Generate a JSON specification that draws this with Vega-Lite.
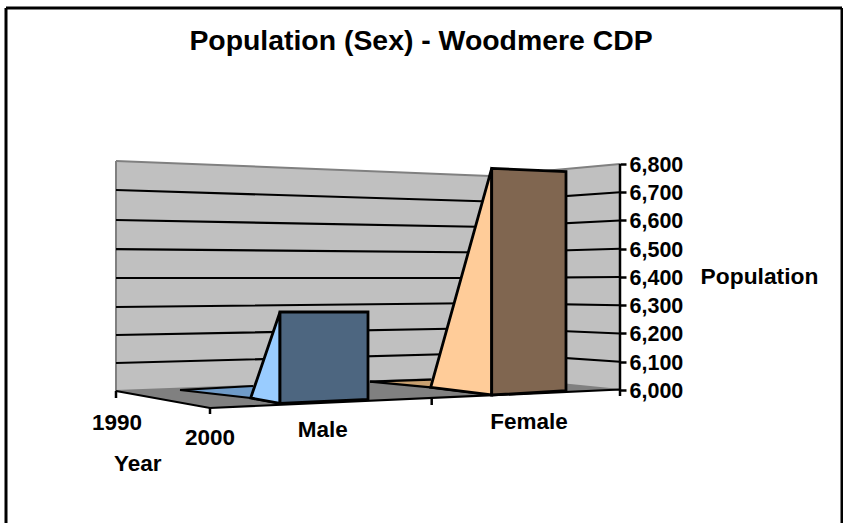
{
"$schema":"https://vega.github.io/schema/vega-lite/v6.json",
"width":836,"height":515,
"autosize":{"type":"none"},
"padding":{"left":6,"top":8,"right":1,"bottom":0},
"background":"white",
"view":{"stroke":null},
"title":{"text":"Population (Sex) - Woodmere CDP","font":"Liberation Sans","fontWeight":"bold","fontSize":28.4,"color":"black","anchor":"middle","offset":-50,"dx":-3},
"config":{"font":"Liberation Sans"},
"datasets":{
"shapes":[
{"part":"walls","p":1.10,"v":6810.6,"v2":5996.5},
{"part":"walls","p":4.84,"v":6757.5,"v2":6046},
{"part":"walls","p":6.14,"v":6800,"v2":6000},
{"part":"floor","p":1.10,"v":5996.5,"v2":5996.5},
{"part":"floor","p":2.04,"v":6008.8,"v2":5936.3},
{"part":"floor","p":4.84,"v":6046,"v2":5981},
{"part":"floor","p":6.14,"v":6000,"v2":6001.8},
{"part":"maleBase","p":1.74,"v":6000,"v2":6000},
{"part":"maleBase","p":2.47,"v":6014.2,"v2":5971.7},
{"part":"femaleBase","p":3.64,"v":6029.4,"v2":6029.4},
{"part":"femaleBase","p":4.25,"v":6036.5,"v2":6009.6},
{"part":"maleSide","p":2.447,"v":5971.7,"v2":5971.7},
{"part":"maleSide","p":2.74,"v":6276.1,"v2":5952.9},
{"part":"maleFront","p":2.74,"v":6276.1,"v2":5952.9},
{"part":"maleFront","p":3.62,"v":6276.1,"v2":5967.1},
{"part":"femaleSide","p":4.247,"v":6009.6,"v2":6009.6},
{"part":"femaleSide","p":4.857,"v":6784.8,"v2":5982.3},
{"part":"femaleFront","p":4.857,"v":6784.8,"v2":5982.3},
{"part":"femaleFront","p":5.60,"v":6772.7,"v2":5997.5}
],
"grid":[
{"level":6700,"p":1.10,"v":6708},{"level":6700,"p":4.84,"v":6667.3},{"level":6700,"p":6.14,"v":6700},
{"level":6600,"p":1.10,"v":6601.8},{"level":6600,"p":4.84,"v":6577},{"level":6600,"p":6.14,"v":6600},
{"level":6500,"p":1.10,"v":6499},{"level":6500,"p":4.84,"v":6486.7},{"level":6500,"p":6.14,"v":6500},
{"level":6400,"p":1.10,"v":6396.5},{"level":6400,"p":4.84,"v":6396.5},{"level":6400,"p":6.14,"v":6400},
{"level":6300,"p":1.10,"v":6293.8},{"level":6300,"p":4.84,"v":6308},{"level":6300,"p":6.14,"v":6300},
{"level":6200,"p":1.10,"v":6194.7},{"level":6200,"p":4.84,"v":6219.5},{"level":6200,"p":6.14,"v":6200},
{"level":6100,"p":1.10,"v":6095.6},{"level":6100,"p":4.84,"v":6131},{"level":6100,"p":6.14,"v":6100}
],
"rim":[
{"edge":"top","p":1.10,"v":6810.6},{"edge":"top","p":4.84,"v":6757.5},{"edge":"top","p":6.14,"v":6800},
{"edge":"left","p":1.10,"v":6810.6},{"edge":"left","p":1.10,"v":5996.5},
{"edge":"back","p":1.10,"v":5996.5},{"edge":"back","p":4.84,"v":6046},{"edge":"back","p":6.14,"v":6000}
],
"edges":[
{"edge":"floor","o":1,"p":1.10,"v":5996.5},{"edge":"floor","o":2,"p":2.04,"v":5936.3},{"edge":"floor","o":3,"p":6.14,"v":6001.8},
{"edge":"maleLow","o":1,"p":1.74,"v":6000},{"edge":"maleLow","o":2,"p":2.447,"v":5971.7},{"edge":"maleLow","o":3,"p":2.74,"v":5952.9},
{"edge":"maleTop","o":1,"p":1.74,"v":6000},{"edge":"maleTop","o":2,"p":2.47,"v":6014.2},
{"edge":"femaleLow","o":1,"p":3.64,"v":6029.4},{"edge":"femaleLow","o":2,"p":4.247,"v":6009.6},{"edge":"femaleLow","o":3,"p":4.857,"v":5982.3},
{"edge":"femaleTop","o":1,"p":3.64,"v":6029.4},{"edge":"femaleTop","o":2,"p":4.25,"v":6036.5}
],
"ticks":[
{"p":1.10,"v":5996.5,"v2":5971.7},
{"p":2.04,"v":5936.3,"v2":5915},
{"p":4.257,"v":5971.7,"v2":5946.9},
{"p":6.14,"v":6800,"v2":5978.8}
],
"frameV":[{"p":0,"v":5529.2,"v2":7352.2},{"p":8.36,"v":5529.2,"v2":7352.2}],
"frameH":[{"p":0,"p2":8.36,"v":7352.2}],
"labels":[
{"label":"1990","p":1.11,"v":5884.2},
{"label":"2000","p":2.04,"v":5830},
{"label":"Male","p":3.167,"v":5858.4},
{"label":"Female","p":5.23,"v":5886.7},
{"label":"Year","p":1.317,"v":5738}
]
},
"encoding":{
"x":{"field":"p","type":"quantitative","scale":{"domain":[0,8.36],"nice":false,"zero":false},"axis":null},
"y":{"field":"v","type":"quantitative","scale":{"domain":[5529.2,7352.2],"nice":false,"zero":false},
"axis":{"orient":"right","offset":-222,"values":[6000,6100,6200,6300,6400,6500,6600,6700,6800],"format":",.0f","domain":false,"grid":false,"ticks":true,"tickColor":"black","tickWidth":2.5,"tickSize":6,"labelFont":"Liberation Sans","labelFontWeight":"bold","labelFontSize":21.5,"labelColor":"black","labelPadding":3,"labelOffset":1.5,"labelOverlap":false,"title":"Population","titleFont":"Liberation Sans","titleFontWeight":"bold","titleFontSize":22.8,"titleColor":"black","titleAngle":0,"titleAlign":"center","titleBaseline":"middle","titleX":139,"titleY":268,"zindex":1}}
},
"layer":[
{"data":{"name":"shapes"},"transform":[{"filter":"datum.part==='walls'"}],"mark":{"type":"area","color":"#C0C0C0","orient":"vertical"},"encoding":{"y2":{"field":"v2"}}},
{"data":{"name":"rim"},"mark":{"type":"line","color":"#808080","strokeWidth":2},"encoding":{"detail":{"field":"edge"}}},
{"data":{"name":"grid"},"mark":{"type":"line","color":"black","strokeWidth":2.2},"encoding":{"detail":{"field":"level"}}},
{"data":{"name":"shapes"},"transform":[{"filter":"datum.part==='floor'"}],"mark":{"type":"area","color":"#808080","orient":"vertical"},"encoding":{"y2":{"field":"v2"}}},
{"data":{"name":"shapes"},"transform":[{"filter":"datum.part==='maleBase'"}],"mark":{"type":"area","color":"#6F9BC8","orient":"vertical"},"encoding":{"y2":{"field":"v2"}}},
{"data":{"name":"shapes"},"transform":[{"filter":"datum.part==='femaleBase'"}],"mark":{"type":"area","color":"#C8A070","orient":"vertical"},"encoding":{"y2":{"field":"v2"}}},
{"data":{"name":"edges"},"mark":{"type":"line","color":"black","strokeWidth":2.2},"encoding":{"detail":{"field":"edge"},"order":{"field":"o","type":"quantitative"}}},
{"data":{"name":"shapes"},"transform":[{"filter":"datum.part==='maleSide'"}],"mark":{"type":"area","color":"#99CCFF","stroke":"black","strokeWidth":2.8,"orient":"vertical"},"encoding":{"y2":{"field":"v2"}}},
{"data":{"name":"shapes"},"transform":[{"filter":"datum.part==='maleFront'"}],"mark":{"type":"area","color":"#4D6680","stroke":"black","strokeWidth":2.8,"orient":"vertical"},"encoding":{"y2":{"field":"v2"}}},
{"data":{"name":"shapes"},"transform":[{"filter":"datum.part==='femaleSide'"}],"mark":{"type":"area","color":"#FFCC99","stroke":"black","strokeWidth":2.8,"orient":"vertical"},"encoding":{"y2":{"field":"v2"}}},
{"data":{"name":"shapes"},"transform":[{"filter":"datum.part==='femaleFront'"}],"mark":{"type":"area","color":"#806650","stroke":"black","strokeWidth":2.8,"orient":"vertical"},"encoding":{"y2":{"field":"v2"}}},
{"data":{"name":"ticks"},"mark":{"type":"rule","color":"black","strokeWidth":2.5},"encoding":{"y2":{"field":"v2"}}},
{"data":{"name":"frameV"},"mark":{"type":"rule","color":"black","strokeWidth":3},"encoding":{"y2":{"field":"v2"}}},
{"data":{"name":"frameH"},"mark":{"type":"rule","color":"black","strokeWidth":3},"encoding":{"x2":{"field":"p2"}}},
{"data":{"name":"labels"},"mark":{"type":"text","font":"Liberation Sans","fontWeight":"bold","fontSize":22.5,"color":"black","align":"center","baseline":"middle"},"encoding":{"text":{"field":"label"}}}
]
}
